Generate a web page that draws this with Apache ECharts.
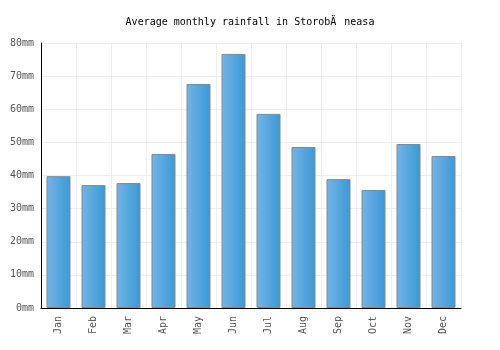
<!DOCTYPE html>
<html><head><meta charset="utf-8">
<script src="https://cdn.jsdelivr.net/npm/echarts@6/dist/echarts.min.js"></script>
<style>html,body{margin:0;padding:0;background:#fff}#c{width:500px;height:350px}</style>
</head><body><div id="c"></div>
<script>
var titleText = "Average monthly rainfall in Storob\u00C4\u0083neasa";
var months = ["Jan","Feb","Mar","Apr","May","Jun","Jul","Aug","Sep","Oct","Nov","Dec"];
var rainfall = [39.8, 37.1, 37.7, 46.5, 67.6, 76.7, 58.6, 48.6, 38.9, 35.6, 49.5, 45.9];
var yTicks = [0, 10, 20, 30, 40, 50, 60, 70, 80];
var font = "DejaVu Sans Mono";
var chart = echarts.init(document.getElementById('c'), null, {renderer:'canvas'});
chart.setOption({
  animation:false,
  title:{text:titleText,left:'center',top:12,textStyle:{fontFamily:font,fontSize:10,fontWeight:'normal',color:'#000'}},
  grid:{left:41,right:39,top:43,bottom:42},
  xAxis:{type:'category',data:months,
    axisLine:{lineStyle:{color:'#000'}},axisTick:{show:false},
    axisLabel:{rotate:90,fontFamily:font,fontSize:10,color:'#555',margin:8},
    splitLine:{show:true,lineStyle:{color:'#eee'}}},
  yAxis:{type:'value',min:0,max:80,interval:10,
    axisLine:{show:true,lineStyle:{color:'#000'}},axisTick:{show:false},
    axisLabel:{formatter:function(v){return yTicks.indexOf(v)>=0?v+'mm':'';},fontFamily:font,fontSize:10,color:'#555',margin:7},
    splitLine:{lineStyle:{color:'#eee'}}},
  series:[{type:'bar',data:rainfall,barWidth:24,
    itemStyle:{borderColor:'#888',borderWidth:1,
      color:new echarts.graphic.LinearGradient(0,0,1,0,[{offset:0,color:'#73b4e8'},{offset:1,color:'#3a99d4'}])}}]
});
</script></body></html>
